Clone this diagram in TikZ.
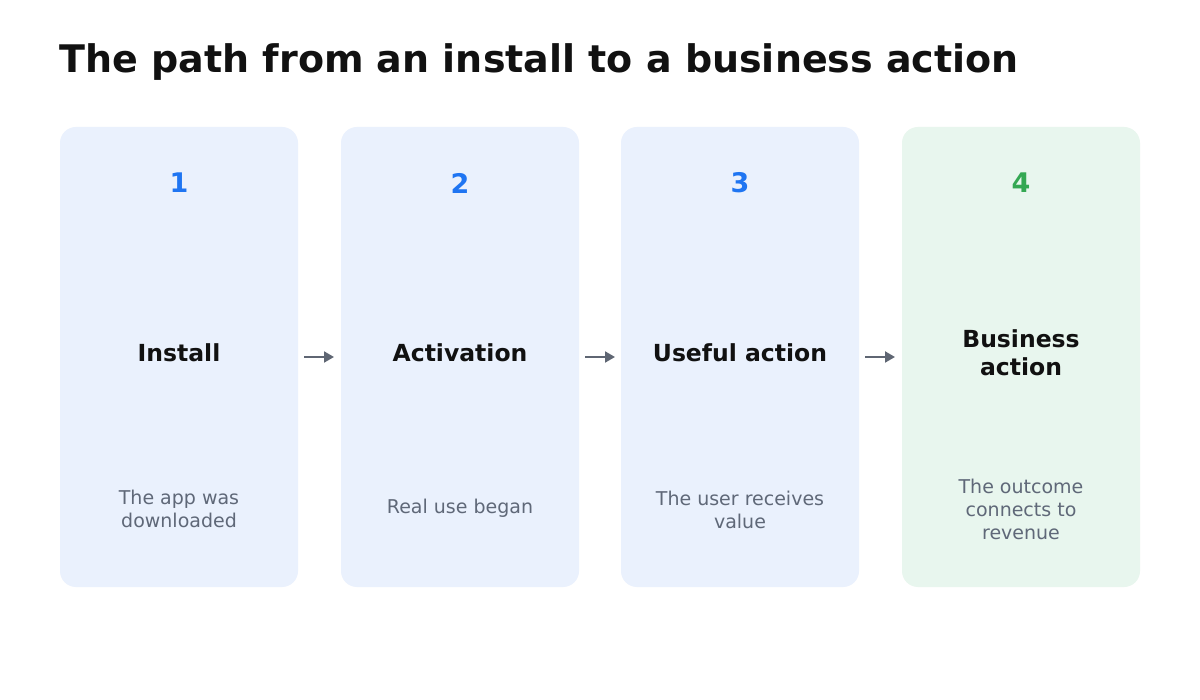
\documentclass[tikz,border=0pt]{standalone}
\usepackage{fontspec}
\setmainfont{DejaVu Sans}
\usetikzlibrary{arrows.meta}
\definecolor{boxblue}{HTML}{EAF1FD}
\definecolor{boxgreen}{HTML}{E8F6EE}
\definecolor{numblue}{HTML}{1F75F2}
\definecolor{numgreen}{HTML}{34A853}
\definecolor{desc}{HTML}{5F6878}
\definecolor{arr}{HTML}{5F6673}
\definecolor{ttl}{HTML}{111111}
\begin{document}
\begin{tikzpicture}[x=1pt,y=-1pt,
  card/.style={rounded corners=16pt,draw=none,minimum width=238pt,minimum height=460pt,inner sep=0pt},
  num/.style={font=\fontsize{27}{30}\selectfont\bfseries},
  lbl/.style={font=\fontsize{23.5}{28}\selectfont\bfseries,text=ttl,align=center},
  dsc/.style={font=\fontsize{19}{23}\selectfont,text=desc,align=center},
  conn/.style={draw=arr,line width=2pt,-{Triangle[length=10pt,width=11pt]}}]
\useasboundingbox (0,0) rectangle (1200,700);
\fill[white] (0,0) rectangle (1200,700);
\node[anchor=west,font=\fontsize{38}{42}\selectfont\bfseries,text=ttl] (title) at (56,62) {The path from an install to a business action};
\foreach \i/\x/\c/\n in {1/179/boxblue/numblue,2/460/boxblue/numblue,3/740/boxblue/numblue,4/1021/boxgreen/numgreen}{
  \node[card,fill=\c] (c\i) at (\x,357) {};
  \node[num,text=\n] (n\i) at (\x,183) {\i};
}
\node[lbl] (l1) at (179,353) {Install};
\node[lbl] (l2) at (460,353) {Activation};
\node[lbl] (l3) at (740,353) {Useful action};
\node[lbl] (l4) at (1021,353) {Business\\action};
\node[dsc] (d1) at (179,509) {The app was\\downloaded};
\node[dsc] (d2) at (460,508) {Real use began};
\node[dsc] (d3) at (740,510) {The user receives\\value};
\node[dsc] (d4) at (1021,509) {The outcome\\connects to\\revenue};
\coordinate (a1) at (304,357); \coordinate (b1) at (334,357);
\coordinate (a2) at (585,357); \coordinate (b2) at (615,357);
\coordinate (a3) at (865,357); \coordinate (b3) at (895,357);
\draw[conn] (a1) -- (b1);
\draw[conn] (a2) -- (b2);
\draw[conn] (a3) -- (b3);
\end{tikzpicture}
\end{document}
